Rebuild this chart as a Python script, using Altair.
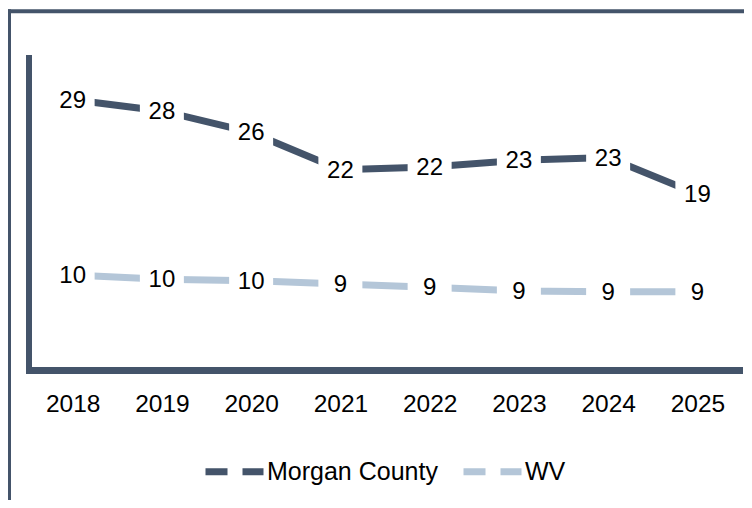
import altair as alt
import pandas as pd

years = ["2018", "2019", "2020", "2021", "2022", "2023", "2024", "2025"]
morgan_values = [29.2, 28.0, 25.7, 21.7, 22.0, 22.7, 23.0, 19.1]
wv_values = [10.4, 9.95, 9.8, 9.45, 9.1, 8.7, 8.6, 8.6]
morgan_labels = ["29", "28", "26", "22", "22", "23", "23", "19"]
wv_labels = ["10", "10", "10", "9", "9", "9", "9", "9"]
series_names = ["Morgan County", "WV"]
series_colors = ["#44546a", "#b4c6d8"]

rows = []
for name, vals, labs in [(series_names[0], morgan_values, morgan_labels),
                         (series_names[1], wv_values, wv_labels)]:
    for yr, v, lab in zip(years, vals, labs):
        rows.append({"year": yr, "value": v, "label": lab, "series": name})
df = pd.DataFrame(rows)

FONT = "Liberation Sans"
DARK = "#44546a"

x_enc = alt.X("year:O", title=None, sort=years,
              axis=alt.Axis(domain=False, ticks=False, grid=False, labelAngle=0,
                            labelFontSize=24.5, labelFont=FONT, labelColor="black",
                            labelPadding=32, labelBaseline="middle"))
y_enc = alt.Y("value:Q", title=None,
              scale=alt.Scale(domain=[0, 34], nice=False, zero=True),
              axis=None)

base = alt.Chart(df)

lines = base.mark_line(strokeWidth=7, strokeCap="butt").encode(
    x=x_enc, y=y_enc,
    color=alt.Color("series:N", scale=alt.Scale(domain=series_names, range=series_colors),
                    legend=alt.Legend(title=None, orient="none", direction="horizontal",
                                      legendX=174, legendY=384, padding=0,
                                      symbolType="stroke", symbolStrokeWidth=7,
                                      symbolDash=[22, 15], symbolSize=3364,
                                      labelFontSize=25, labelFont=FONT, labelColor="black",
                                      labelOffset=0, labelLimit=0, columnPadding=11)),
    detail="series:N",
)

masks = base.mark_square(size=1936, color="white", opacity=1, strokeWidth=0).encode(
    x=x_enc, y=y_enc)

labels = base.mark_text(fontSize=24, font=FONT, color="black", baseline="middle",
                        align="center", dy=1).encode(x=x_enc, y=y_enc, text="label:N")

one = alt.Chart(pd.DataFrame({"k": [0]}))
y_axis_line = one.mark_rule(color=DARK, strokeWidth=6, strokeCap="butt").encode(
    x=alt.value(1), y=alt.value(0), y2=alt.value(319))
x_axis_line = one.mark_rule(color=DARK, strokeWidth=7, strokeCap="butt").encode(
    x=alt.value(-2), x2=alt.value(715), y=alt.value(315.5))
frame_top = one.mark_rule(color=DARK, strokeWidth=4, strokeCap="butt").encode(
    x=alt.value(-20), x2=alt.value(716), y=alt.value(-43.7))
frame_left = one.mark_rule(color=DARK, strokeWidth=3, strokeCap="butt").encode(
    x=alt.value(-18.5), y=alt.value(-45.7), y2=alt.value(445))

chart = alt.layer(frame_top, frame_left, lines, masks, labels, y_axis_line, x_axis_line).properties(
    width=714, height=317,
    background="white",
    autosize=alt.AutoSizeParams(type="none"),
    padding={"left": 20, "top": 47, "right": 2, "bottom": 128},
).configure_view(stroke=None, strokeWidth=0)

chart.save("out.html", embed_options={"renderer": "svg", "actions": False})
